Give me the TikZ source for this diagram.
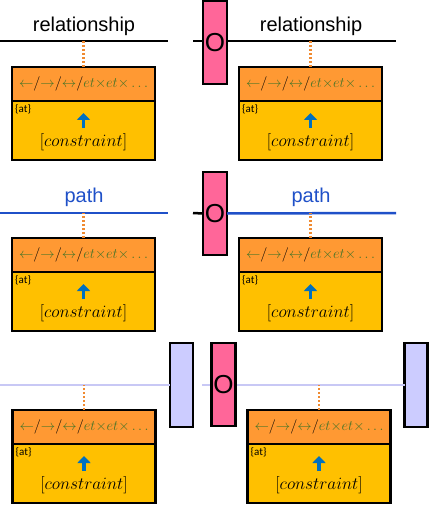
\documentclass[tikz,border=0pt]{standalone}
\usepackage{fontspec}
\setmainfont{Liberation Sans}
\newfontfamily\calibri{Carlito}
\usetikzlibrary{arrows.meta}
\definecolor{gatepink}{HTML}{FF6699}
\definecolor{mutelav}{HTML}{CCCCFF}
\definecolor{faintlav}{HTML}{C8C8F5}
\definecolor{headorange}{HTML}{FF9933}
\definecolor{bodygold}{HTML}{FFC000}
\definecolor{hdgreen}{HTML}{4A7528}
\definecolor{uparrowblue}{HTML}{0070C0}
\definecolor{pathblue}{HTML}{1F50C8}
\definecolor{linkorange}{HTML}{F08A30}
\newcommand{\headtext}{\fontsize{15}{15}\selectfont\raisebox{-1.5pt}{$\textcolor{hdgreen}{\leftarrow}/\textcolor{hdgreen}{\rightarrow}/\textcolor{hdgreen}{\leftrightarrow}/\textcolor{hdgreen}{et{\times}et{\times}\ldots}$}}
% one operator box: header with arrows, body with constraint
\newcommand{\opbox}[3]{%
  \node[headbox,anchor=north] (#1-head) at (#2,#3) {\headtext};
  \node[bodybox,anchor=north] (#1-body) at (#1-head.south) {};
  \node[attext,anchor=north west] (#1-at) at ([xshift=3pt,yshift=-3pt]#1-body.north west) {\{at\}};
  \draw[uparrow] ([yshift=-27pt]#1-body.north) -- ([yshift=-12pt]#1-body.north);
  \node[context] (#1-con) at ([yshift=-41pt]#1-body.north) {$[constraint]$};
}
\begin{document}
\begin{tikzpicture}[x=1pt,y=-1pt,
  rel/.style={line width=2.5pt,black},
  pathline/.style={line width=2.5pt,pathblue},
  faint/.style={line width=2.2pt,faintlav},
  link/.style={line width=2.2pt,linkorange,dash pattern=on 2pt off 2pt},
  gate/.style={draw,line width=2.5pt,outer sep=0pt,fill=gatepink,minimum width=24pt,minimum height=83pt,inner sep=0pt,font=\fontsize{26}{26}\selectfont},
  mute/.style={draw,line width=2.5pt,outer sep=0pt,fill=mutelav,minimum width=23pt,minimum height=84pt,inner sep=0pt},
  headbox/.style={draw,line width=2.5pt,outer sep=0pt,fill=headorange,minimum width=143pt,minimum height=34pt,inner sep=0pt},
  bodybox/.style={draw,line width=2.5pt,outer sep=0pt,fill=bodygold,minimum width=143pt,minimum height=59pt,inner sep=0pt},
  attext/.style={inner sep=0pt,font=\calibri\fontsize{11}{11}\selectfont},
  context/.style={inner sep=0pt,font=\fontsize{16.5}{16.5}\selectfont},
  uparrow/.style={line width=3.5pt,uparrowblue,-{Triangle[width=13pt,length=7pt]}},
  reltext/.style={font=\fontsize{20}{20}\selectfont},
  pathtext/.style={font=\fontsize{20}{20}\selectfont,text=pathblue}]
\useasboundingbox (0,0) rectangle (429,505);
% Row 1: relationship
\coordinate (l1a) at (0,41);
\coordinate (l1b) at (168,41);
\coordinate (l1c) at (193,41);
\coordinate (l1d) at (396,41);
\draw[rel] (l1a) -- (l1b);
\draw[rel] (l1c) -- (l1d);
\node[gate] (g1) at (215,42.5) {O};
\node[reltext] (t1a) at (84,26) {relationship};
\node[reltext] (t1b) at (311,26) {relationship};
\opbox{b1a}{83.5}{67}
\opbox{b1b}{310.5}{67}
\draw[link] (b1a-head.north) -- (b1a-head.north |- l1a);
\draw[link] (b1b-head.north) -- (b1b-head.north |- l1a);
% Row 2: path
\coordinate (l2a) at (0,213);
\coordinate (l2b) at (168,213);
\coordinate (l2c) at (193,213);
\coordinate (l2d) at (396,213);
\node[gate] (g2) at (215,213.5) {O};
\draw[pathline] (l2a) -- (l2b);
\draw[rel] (l2c) -- (g2.west);
\draw[pathline] (g2.east) -- (l2d);
\node[pathtext] (t2a) at (84,197) {path};
\node[pathtext] (t2b) at (311,197) {path};
\opbox{b2a}{83.5}{238}
\opbox{b2b}{310.5}{238}
\draw[link] (b2a-head.north) -- (b2a-head.north |- l2a);
\draw[link] (b2b-head.north) -- (b2b-head.north |- l2a);
% Row 3: muted ends
\coordinate (l3a) at (0,385);
\coordinate (l3c) at (202,385);
\node[mute] (m1) at (181.5,385) {};
\node[mute] (m2) at (416,385) {};
\draw[faint] (l3a) -- (m1.west);
\draw[faint] (l3c) -- (m2.west);
\node[gate] (g3) at (223.5,384.5) {O};
\opbox{b3a}{84}{410}
\opbox{b3b}{319}{410}
\draw[link] (b3a-head.north) -- (b3a-head.north |- l3a);
\draw[link] (b3b-head.north) -- (b3b-head.north |- l3a);
\end{tikzpicture}
\end{document}
